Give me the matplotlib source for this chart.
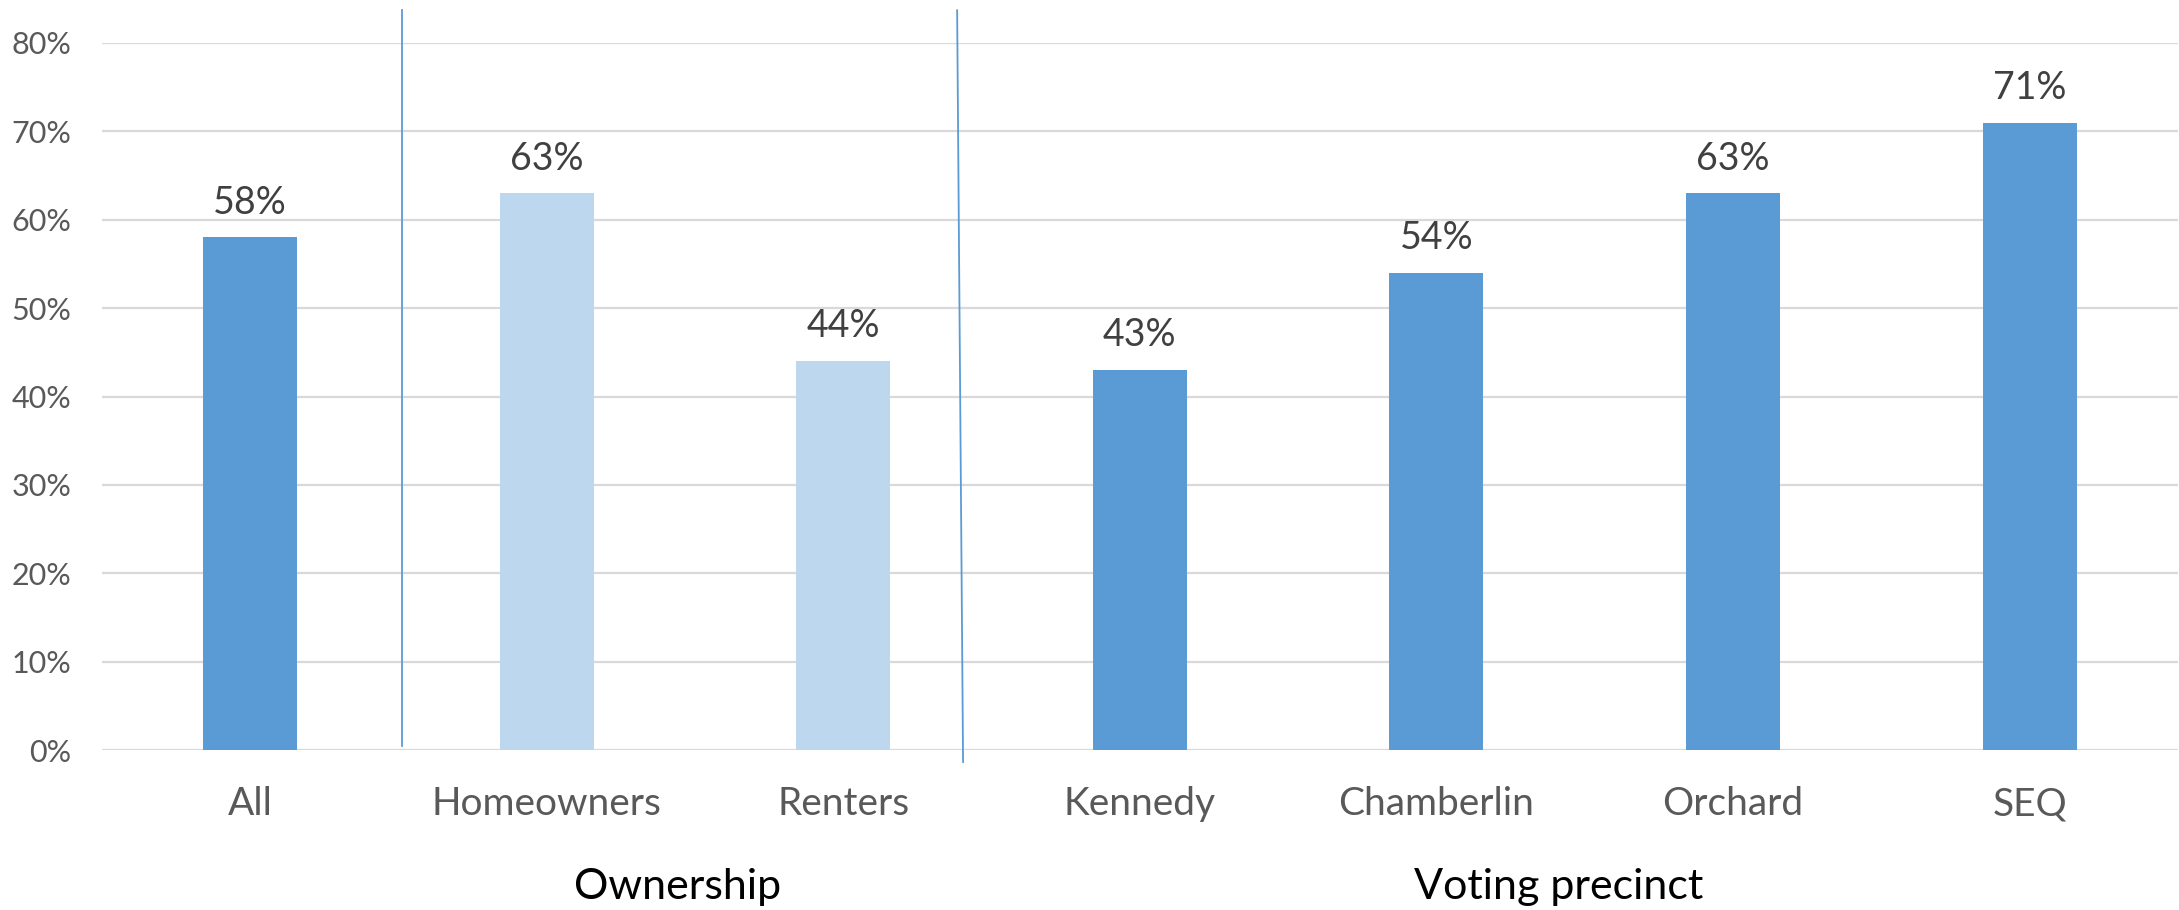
import matplotlib
matplotlib.use("Agg")
import matplotlib.pyplot as plt
from matplotlib.ticker import FuncFormatter

categories = ["All", "Homeowners", "Renters", "Kennedy", "Chamberlin", "Orchard", "SEQ"]
values = [0.58, 0.63, 0.44, 0.43, 0.54, 0.63, 0.71]
value_labels = ["58%", "63%", "44%", "43%", "54%", "63%", "71%"]
bar_colors = ["#5B9BD5", "#BDD7EE", "#BDD7EE", "#5B9BD5", "#5B9BD5", "#5B9BD5", "#5B9BD5"]
yticks = [0, 0.1, 0.2, 0.3, 0.4, 0.5, 0.6, 0.7, 0.8]
group_names = ["Ownership", "Voting precinct"]
group_centers = [1.443, 4.413]

plt.rcParams['font.family'] = ['Lato', 'DejaVu Sans']

fig = plt.figure(figsize=(21.79, 9.10), dpi=100)
ax = fig.add_axes([101.7 / 2179, 1 - 750 / 910, (2178 - 101.7) / 2179, (750 - 43) / 910])

x = list(range(len(categories)))
ax.bar(x, values, width=0.317, color=bar_colors, zorder=3)

for xi, v, lab in zip(x, values, value_labels):
    ax.annotate(lab, (xi, v), xytext=(0, 12), textcoords="offset points",
                ha="center", va="bottom", fontsize=27, color="#404040")

ax.set_xlim(-0.5, len(categories) - 0.5)
ax.set_ylim(0, 0.8)
ax.set_yticks(yticks)
ax.yaxis.set_major_formatter(FuncFormatter(lambda v, p: f"{v*100:.0f}%"))
ax.grid(axis="y", color="#D9D9D9", linewidth=1.6, zorder=0)
ax.set_axisbelow(True)
for s in ax.spines.values():
    s.set_visible(False)
ax.tick_params(axis="y", length=0, pad=22, labelsize=22, labelcolor="#595959")
ax.set_xticks(x)
ax.set_xticklabels(categories)
ax.tick_params(axis="x", length=0, pad=26, labelsize=28, labelcolor="#595959")

# group separators
ax.plot([0.512, 0.512], [0.0045, 0.837], color="#5B9BD5", linewidth=1.3, clip_on=False, zorder=4)
ax.plot([2.384, 2.404], [0.837, -0.0136], color="#5B9BD5", linewidth=1.3, clip_on=False, zorder=4)

for name, cx in zip(group_names, group_centers):
    ax.text(cx, -0.155, name, ha="center", va="center", fontsize=31, color="#000000",
            transform=ax.transData, clip_on=False)

fig.savefig("out.png", dpi=100)
